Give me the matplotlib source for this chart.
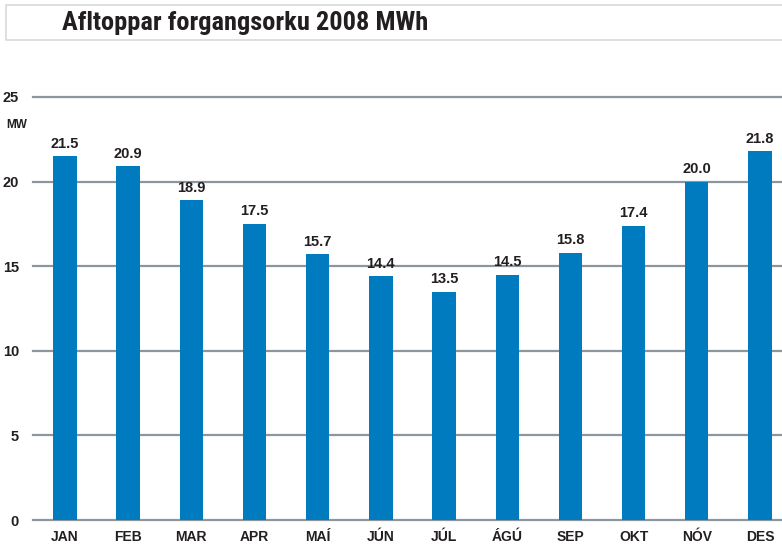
import matplotlib
matplotlib.use("Agg")
from matplotlib import pyplot
from matplotlib.patches import Rectangle
import numpy

# Data
months = ["JAN", "FEB", "MAR", "APR", "MAÍ", "JÚN", "JÚL", "ÁGÚ", "SEP", "OKT", "NÓV", "DES"]
peaks = [21.5, 20.9, 18.9, 17.5, 15.7, 14.4, 13.5, 14.5, 15.8, 17.4, 20.0, 21.8]
yticks = [0, 5, 10, 15, 20, 25]

barColor = "#007bbf"
gridColor = "#8c979d"
textColor = "#231f20"

pyplot.rcParams["font.family"] = ["Liberation Sans", "DejaVu Sans"]

figure = pyplot.figure(figsize=(7.82, 5.45), dpi=100)

# Title box
figure.patches.append(Rectangle((6 / 782, 1 - 40 / 545), 780 / 782, 35 / 545,
                                transform=figure.transFigure, facecolor="white",
                                edgecolor="#d5dadb", linewidth=1.2))
figure.text(62 / 782, 1 - 23 / 545, "Afltoppar forgangsorku 2008 MWh",
            family=["Roboto Condensed", "DejaVu Sans"], weight="bold",
            size=19, color=textColor, va="center", ha="left")

axis = figure.add_axes([33 / 782, 25 / 545, 749 / 782, 423 / 545])

x = numpy.arange(len(months))
bars = axis.bar(x, peaks, 0.37, color=barColor, zorder=3)

for xi, value in zip(x, peaks):
    axis.annotate(f"{value:.1f}", (xi, value), xytext=(0, 4), textcoords="offset points",
                  ha="center", va="bottom", size=10.5, weight="bold", color=textColor)

axis.set_xlim(-0.506, 11.35)
axis.set_ylim(0, 25)
axis.set_yticks(yticks)
axis.set_yticklabels([str(t) for t in yticks], size=10.5, weight="bold", color=textColor)
axis.set_xticks(x)
axis.set_xticklabels(months, size=10, weight="bold", color=textColor)
axis.tick_params(length=0)
axis.tick_params(axis="y", pad=10)
axis.tick_params(axis="x", pad=7)

for t in yticks:
    axis.axhline(t, color=gridColor, linewidth=1.6, zorder=1, clip_on=False)

for spine in axis.spines.values():
    spine.set_visible(False)

figure.text(6 / 782, 1 - 125 / 545, "MW", size=8.5, weight="bold", color=textColor,
            ha="left", va="center")

pyplot.savefig("out.png", dpi=100)
